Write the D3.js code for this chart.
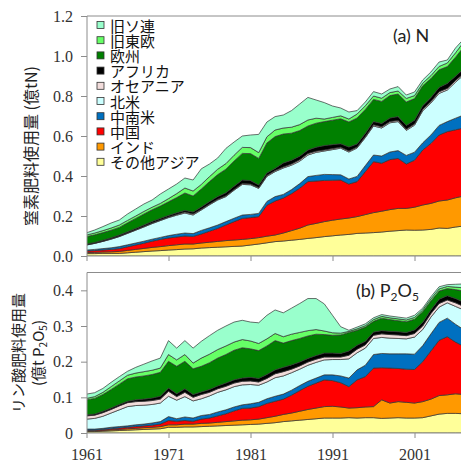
<!DOCTYPE html>
<html lang="ja">
<head>
<meta charset="UTF-8">
<title>窒素・リン酸肥料使用量</title>
<script src="https://d3js.org/d3.v7.min.js"></script>
<style>
  body { margin: 0; background: #fff; }
  .tick text { font-family: "Liberation Serif", serif; font-size: 16px; fill: #333; }
</style>
</head>
<body>
<script>
    const years = d3.range(1961, 2008);
    const regions = ["その他アジア", "インド", "中国", "中南米", "北米", "オセアニア", "アフリカ", "欧州", "旧東欧", "旧ソ連"];
    const colors = ["#ffff99", "#ff9900", "#ff0000", "#0070c0", "#ccffff", "#f2dcdb", "#000000", "#008000", "#66ff66", "#99ffcc"];

    // 窒素 (億tN), 1961-2007
    const nOtherAsia = [.012,.012,.013,.013,.013,.016,.019,.022,.025,.027,.030,.032,.035,.036,.040,.042,.044,.046,.048,.050,.055,.060,.066,.072,.075,.079,.083,.088,.092,.097,.101,.105,.108,.113,.115,.117,.120,.124,.127,.130,.129,.130,.133,.140,.138,.145,.150];
    const nIndia = [.005,.006,.007,.008,.010,.012,.014,.016,.018,.020,.022,.024,.025,.024,.025,.027,.029,.031,.032,.033,.032,.032,.033,.033,.040,.048,.056,.067,.071,.075,.078,.080,.082,.084,.092,.100,.104,.108,.111,.108,.115,.125,.130,.135,.142,.146,.150];
    const nChina = [.008,.009,.010,.012,.014,.018,.022,.026,.031,.036,.038,.039,.040,.038,.045,.055,.065,.078,.092,.105,.105,.105,.155,.170,.175,.185,.200,.217,.212,.206,.200,.195,.170,.175,.215,.255,.240,.250,.250,.222,.235,.275,.300,.330,.342,.340,.340];
    const nLatAm = [.005,.006,.007,.008,.010,.010,.010,.010,.010,.010,.012,.014,.015,.014,.018,.017,.017,.017,.017,.017,.016,.016,.019,.022,.018,.020,.023,.025,.028,.030,.028,.026,.025,.026,.030,.033,.036,.038,.039,.043,.040,.036,.042,.048,.050,.058,.065];
    const nNorthAm = [.025,.030,.036,.043,.050,.057,.064,.071,.078,.084,.090,.095,.100,.093,.102,.115,.125,.125,.140,.153,.148,.125,.125,.125,.132,.122,.112,.108,.115,.117,.125,.133,.135,.142,.140,.145,.140,.146,.145,.125,.135,.160,.160,.160,.158,.180,.200];
    const nOceania = [.001,.001,.001,.002,.002,.002,.002,.003,.003,.003,.003,.004,.005,.005,.004,.004,.004,.004,.004,.004,.004,.004,.005,.005,.005,.006,.007,.007,.006,.005,.005,.005,.005,.005,.005,.006,.006,.006,.006,.006,.006,.007,.007,.008,.008,.008,.008];
    const nAfrica = [.004,.004,.005,.005,.006,.006,.007,.007,.008,.008,.008,.008,.008,.010,.011,.012,.013,.015,.016,.018,.017,.013,.012,.011,.020,.019,.018,.018,.020,.022,.020,.017,.020,.015,.016,.016,.017,.018,.019,.019,.019,.018,.020,.022,.025,.022,.022];
    const nEurope = [.037,.038,.038,.038,.038,.045,.050,.055,.058,.062,.068,.076,.087,.080,.090,.100,.110,.118,.126,.133,.135,.133,.150,.159,.145,.135,.128,.120,.120,.120,.122,.125,.125,.130,.120,.111,.110,.112,.113,.117,.108,.100,.095,.088,.084,.095,.110];
    const nEastEur = [.008,.009,.010,.011,.012,.012,.012,.013,.013,.013,.016,.020,.025,.025,.023,.025,.027,.028,.029,.030,.030,.029,.031,.033,.030,.030,.030,.030,.025,.013,.014,.015,.015,.020,.018,.017,.016,.015,.015,.018,.015,.013,.015,.017,.018,.022,.025];
    const nUSSR = [.011,.015,.020,.025,.025,.032,.035,.037,.036,.047,.048,.048,.050,.055,.078,.063,.056,.076,.066,.057,.063,.091,.074,.067,.065,.083,.103,.113,.091,.082,.057,.039,.035,.017,.019,.022,.021,.018,.022,.017,.018,.016,.018,.022,.015,.024,.015];

    // リン酸 (億t P2O5), 1961-2007
    const pOtherAsia = [.004,.004,.005,.006,.007,.008,.009,.010,.011,.012,.016,.016,.017,.017,.018,.019,.020,.021,.022,.023,.024,.025,.027,.029,.032,.034,.036,.038,.040,.042,.042,.042,.043,.042,.043,.043,.041,.042,.043,.042,.042,.043,.048,.053,.055,.055,.054];
    const pIndia = [.002,.002,.002,.003,.003,.004,.004,.005,.005,.006,.007,.007,.008,.008,.009,.009,.010,.011,.012,.013,.013,.014,.016,.018,.020,.022,.025,.028,.030,.032,.033,.031,.027,.029,.030,.031,.052,.042,.045,.044,.042,.045,.047,.052,.052,.055,.054];
    const pChina = [.002,.002,.003,.003,.004,.004,.005,.005,.006,.007,.012,.010,.010,.008,.012,.014,.018,.022,.028,.033,.033,.035,.040,.042,.043,.050,.058,.065,.070,.075,.072,.068,.060,.078,.085,.108,.090,.098,.093,.093,.094,.112,.135,.155,.163,.145,.135];
    const pLatAm = [.003,.003,.003,.004,.004,.004,.005,.005,.006,.007,.011,.007,.010,.009,.010,.010,.011,.011,.011,.010,.012,.012,.013,.014,.014,.014,.014,.014,.014,.014,.016,.019,.024,.028,.032,.038,.040,.040,.041,.043,.043,.045,.048,.050,.052,.050,.047];
    const pNorthAm = [.028,.030,.034,.040,.047,.054,.054,.053,.052,.052,.057,.052,.057,.048,.047,.052,.055,.056,.057,.056,.054,.048,.047,.052,.051,.049,.046,.045,.044,.042,.043,.046,.054,.048,.048,.045,.045,.044,.043,.042,.048,.045,.047,.043,.043,.050,.055];
    const pOceania = [.009,.009,.010,.010,.011,.011,.011,.011,.011,.011,.014,.010,.012,.010,.012,.010,.010,.010,.010,.010,.010,.009,.010,.011,.012,.010,.009,.009,.009,.008,.007,.007,.010,.010,.009,.009,.010,.010,.010,.009,.010,.010,.010,.010,.008,.010,.010];
    const pAfrica = [.003,.003,.004,.004,.004,.004,.005,.006,.007,.008,.009,.008,.010,.008,.007,.008,.008,.009,.009,.009,.010,.010,.011,.011,.012,.012,.011,.010,.010,.011,.011,.010,.012,.011,.010,.009,.009,.009,.009,.009,.010,.010,.010,.012,.012,.012,.012];
    const pEurope = [.042,.044,.047,.052,.057,.063,.064,.065,.066,.067,.075,.077,.077,.072,.072,.075,.078,.080,.083,.085,.080,.078,.080,.082,.068,.068,.066,.063,.060,.052,.050,.052,.052,.042,.040,.030,.035,.033,.031,.030,.030,.030,.025,.023,.020,.025,.031];
    const pEastEur = [.004,.005,.006,.008,.009,.010,.011,.012,.012,.012,.019,.018,.019,.016,.023,.024,.024,.024,.023,.023,.022,.020,.020,.020,.018,.018,.017,.015,.013,.010,.007,.005,.003,.004,.004,.005,.005,.005,.005,.005,.005,.005,.006,.006,.006,.007,.009];
    const pUSSR = [.012,.011,.011,.012,.012,.011,.016,.021,.026,.028,.039,.033,.039,.042,.047,.052,.054,.056,.056,.054,.053,.058,.066,.066,.067,.073,.081,.090,.087,.076,.049,.018,.003,.005,.005,.005,.005,.005,.005,.005,.006,.005,.006,.006,.005,.008,.011];

    const nSeries = [nOtherAsia, nIndia, nChina, nLatAm, nNorthAm, nOceania, nAfrica, nEurope, nEastEur, nUSSR];
    const pSeries = [pOtherAsia, pIndia, pChina, pLatAm, pNorthAm, pOceania, pAfrica, pEurope, pEastEur, pUSSR];

    const nTicks = [0, 0.2, 0.4, 0.6, 0.8, 1.0, 1.2];
    const pTicks = [0, 0.1, 0.2, 0.3, 0.4];
    const yearTicks = [1961, 1971, 1981, 1991, 2001];

    const width = 461, height = 465;
    const left = 87, right = 461;

    let svg = d3.select("body")
        .append("svg")
        .attr("width", width)
        .attr("height", height);

    let x = d3.scaleLinear().domain([1961, 2007]).range([86.5, 463.7]);

    function toRows(series) {
        return years.map((yr, i) => {
            let row = { year: yr };
            regions.forEach((r, k) => row[r] = series[k][i]);
            return row;
        });
    }

    function drawPanel(series, yMax, top, bottom, ticks, fmt, id, showYears) {
        let y = d3.scaleLinear().domain([0, yMax]).range([bottom, top]);
        let stacked = d3.stack().keys(regions)(toRows(series));

        svg.append("clipPath").attr("id", id)
            .append("rect")
            .attr("x", left).attr("y", top)
            .attr("width", right - left).attr("height", bottom - top);

        let area = d3.area()
            .x(d => x(d.data.year))
            .y0(d => y(d[0]))
            .y1(d => y(d[1]));

        svg.append("g")
            .attr("clip-path", `url(#${id})`)
            .selectAll("path")
            .data(stacked)
            .enter()
            .append("path")
            .attr("d", area)
            .style("fill", (d, i) => colors[i])
            .style("stroke", "#333")
            .style("stroke-width", 0.7);

        // frame top
        svg.append("line")
            .attr("x1", left).attr("x2", right)
            .attr("y1", top).attr("y2", top)
            .style("stroke", "#8c8c8c");

        let yAxis = svg.append("g")
            .attr("transform", `translate(${left},0)`)
            .call(d3.axisLeft(y).tickValues(ticks).tickFormat(fmt).tickSize(6).tickSizeOuter(0));
        yAxis.select(".domain").attr("d", `M0,${top}V${bottom}`).style("stroke", "#8c8c8c");
        yAxis.selectAll(".tick line").style("stroke", "#8c8c8c");
        yAxis.selectAll(".tick text").attr("x", -14);

        let xAxis = svg.append("g")
            .attr("transform", `translate(0,${bottom})`)
            .call(d3.axisBottom(x).tickValues(yearTicks).tickFormat(d3.format("d")).tickSize(5).tickSizeOuter(0));
        xAxis.select(".domain").attr("d", `M${left},0H${right}`).style("stroke", "#8c8c8c");
        xAxis.selectAll(".tick line").style("stroke", "#8c8c8c");
        xAxis.selectAll(".tick text").attr("y", 16);
        if (!showYears) xAxis.selectAll(".tick text").remove();
    }

    drawPanel(nSeries, 1.2, 16, 256, nTicks, d3.format(".1f"), "clipN", false);
    drawPanel(pSeries, 0.45, 272.5, 433, pTicks, d => d === 0 ? "0" : d.toFixed(1), "clipP", true);

    // y axis titles
    svg.append("text")
        .attr("transform", "translate(37,146) rotate(-90)")
        .attr("text-anchor", "middle")
        .style("font-family", "'Noto Sans CJK JP', sans-serif")
        .style("font-size", "16px")
        .style("fill", "#222")
        .text("窒素肥料使用量 (億tN)");

    svg.append("text")
        .attr("transform", "translate(24,353) rotate(-90)")
        .attr("text-anchor", "middle")
        .style("font-family", "'Noto Sans CJK JP', sans-serif")
        .style("font-size", "15px")
        .style("fill", "#222")
        .text("リン酸肥料使用量");

    let sub = svg.append("text")
        .attr("transform", "translate(44,353) rotate(-90)")
        .attr("text-anchor", "middle")
        .style("font-family", "'Noto Sans CJK JP', sans-serif")
        .style("font-size", "15px")
        .style("fill", "#222");
    sub.append("tspan").text("(億t P");
    sub.append("tspan").attr("dy", 3).style("font-size", "10px").text("2");
    sub.append("tspan").attr("dy", -3).text("O");
    sub.append("tspan").attr("dy", 3).style("font-size", "10px").text("5");
    sub.append("tspan").attr("dy", -3).text(")");

    // panel labels
    svg.append("text")
        .attr("x", 393).attr("y", 42)
        .style("font-family", "Lato, sans-serif")
        .style("font-size", "18px")
        .style("fill", "#222")
        .text("(a) N");

    let lb = svg.append("text")
        .attr("x", 356).attr("y", 297)
        .style("font-family", "Lato, sans-serif")
        .style("font-size", "18px")
        .style("fill", "#222");
    lb.append("tspan").text("(b) P");
    lb.append("tspan").attr("dy", 4).style("font-size", "12px").text("2");
    lb.append("tspan").attr("dy", -4).text("O");
    lb.append("tspan").attr("dy", 4).style("font-size", "12px").text("5");

    // legend (top entry = top layer)
    let legend = svg.append("g");
    regions.slice().reverse().forEach((r, i) => {
        let cy = 25 + i * 15.2;
        legend.append("rect")
            .attr("x", 97).attr("y", cy - 3.5)
            .attr("width", 7).attr("height", 7)
            .style("fill", colors[regions.length - 1 - i])
            .style("stroke", "#333")
            .style("stroke-width", 0.8);
        legend.append("text")
            .attr("x", 110).attr("y", cy)
            .attr("dominant-baseline", "central")
            .style("font-family", "'Noto Sans CJK JP', sans-serif")
            .style("font-size", "15px")
            .style("fill", "#111")
            .text(r);
    });
</script>
</body>
</html>
